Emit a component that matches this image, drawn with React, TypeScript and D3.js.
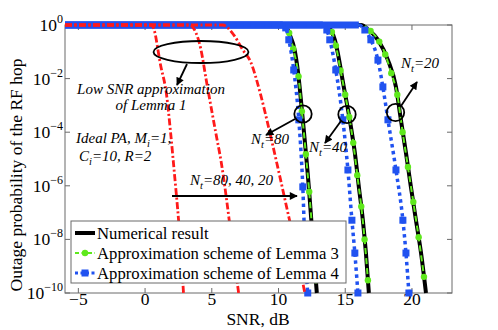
import React from "react";
import * as d3 from "d3";

type Pt = [number, number];

// numerical result (black) as [SNR dB, outage]
const numerical80: Pt[] = [[-6, 1], [10.39, 1], [10.62, 0.78], [10.84, 0.43], [11.2, 0.12], [11.44, 0.021], [11.82, 2.9e-4], [12.27, 9.1e-7], [12.64, 3.1e-9], [12.87, 1e-10]];
const numerical40: Pt[] = [[-6, 1], [13.62, 1], [13.92, 0.65], [14.22, 0.28], [14.44, 0.091], [14.89, 4.9e-3], [15.34, 2.9e-4], [15.72, 1.7e-5], [16.02, 9.1e-7], [16.32, 5.2e-8], [16.55, 3.1e-9], [16.77, 1e-10]];
const numerical20: Pt[] = [[-6, 1], [16.17, 1], [16.77, 0.65], [17.45, 0.28], [18.2, 0.049], [18.8, 4.9e-3], [19.17, 2.9e-4], [19.55, 1.7e-5], [19.92, 9.1e-7], [20.3, 5.2e-8], [20.68, 3.1e-9], [21.05, 1e-10]];

// approximation scheme of Lemma 3 (green)
const lemma3_80: Pt[] = [[-6, 1], [10.45, 1], [10.8, 0.5], [11.1, 0.13], [11.5, 0.012], [11.75, 6e-4], [12.05, 1.5e-5], [12.3, 6e-7], [12.55, 1.5e-8], [12.8, 3e-10]];
const lemma3_40: Pt[] = [[-6, 1], [13.65, 1], [14.0, 0.55], [14.3, 0.17], [14.65, 0.02], [15.0, 2.5e-3], [15.3, 3.7e-4], [15.6, 4e-5], [15.9, 2.5e-6], [16.2, 1.7e-7], [16.45, 1e-8], [16.7, 3e-10]];
const lemma3_20: Pt[] = [[-6, 1], [16.2, 1], [16.9, 0.6], [17.55, 0.24], [18.0, 0.08], [18.45, 0.016], [18.9, 2.5e-3], [19.3, 1e-4], [19.7, 5e-6], [20.1, 2.5e-7], [20.5, 1.2e-8], [20.9, 4e-10]];

// approximation scheme of Lemma 4 (blue)
const lemma4_80: Pt[] = [[-6, 1], [10.32, 1], [10.54, 0.78], [10.77, 0.28], [11.14, 0.021], [11.52, 2.9e-4], [11.82, 9.1e-7], [12.0, 3.1e-9], [12.19, 1e-10]];
const lemma4_40: Pt[] = [[-6, 1], [13.32, 1], [13.62, 0.65], [13.84, 0.28], [14.29, 0.021], [14.82, 2.9e-4], [15.2, 3.9e-6], [15.5, 5.2e-8], [15.72, 3.1e-9], [15.95, 1e-10]];
const lemma4_20: Pt[] = [[-6, 1], [16.02, 1], [16.47, 0.65], [16.92, 0.28], [17.45, 0.049], [17.82, 4.9e-3], [18.2, 2.9e-4], [18.8, 3.9e-6], [19.32, 5.2e-8], [19.55, 3.1e-9], [19.77, 1e-10]];

// low SNR approximation of Lemma 1 (red)
const lowSnr80: Pt[] = [[-6, 1], [0.45, 1], [0.63, 0.78], [1.16, 0.032], [1.61, 2.5e-3], [1.91, 1e-4], [2.21, 2.5e-6], [2.51, 5.2e-8], [2.7, 2.6e-9], [2.88, 1e-10]];
const lowSnr40: Pt[] = [[-6, 1], [3.41, 1], [3.54, 0.87], [4.16, 0.14], [4.61, 7.4e-3], [5.29, 1e-4], [5.74, 6e-6], [6.11, 3e-7], [6.49, 9.5e-9], [7.01, 1e-10]];
const lowSnr20: Pt[] = [[-6, 1], [5.81, 1], [6.64, 0.43], [7.31, 0.12], [7.91, 0.042], [8.66, 2.5e-3], [9.26, 1.5e-4], [9.94, 5e-6], [10.77, 6.9e-8], [11.37, 3.1e-9], [11.97, 1e-10]];

const xTicks = [-5, 0, 5, 10, 15, 20];
const yTickExps = [0, -2, -4, -6, -8, -10];
const legendLabels = ["Numerical result", "Approximation scheme of Lemma 3", "Approximation scheme of Lemma 4"];

const W = 498, H = 330;
const m = { left: 65, right: 452, top: 25, bottom: 293 };
const BLUE = "#2052f0", GREEN = "#5ee81c", RED = "#ff1a1a", AX = "#6a6a6a";
const serif = "'Liberation Serif', 'Times New Roman', serif";

const minus = (v: number) => (v < 0 ? "\u2212" + Math.abs(v) : String(v));

export default function App() {
  const x = d3.scaleLinear().domain([-6, 23]).range([m.left, m.right]);
  const y = d3.scaleLog().domain([1e-10, 1]).range([m.bottom, m.top]);
  const line = d3.line<Pt>().x((d) => x(d[0])).y((d) => y(d[1])).curve(d3.curveMonotoneX);

  const black = [numerical80, numerical40, numerical20];
  const green = [lemma3_80, lemma3_40, lemma3_20];
  const blue = [lemma4_80, lemma4_40, lemma4_20];
  const red = [lowSnr80, lowSnr40, lowSnr20];

  const it = { fontFamily: serif, fontStyle: "italic", fontSize: 15 } as const;
  const sub = { fontSize: 10.5 } as const;

  return (
    <svg width={W} height={H} style={{ position: "absolute", left: 0, top: 0, background: "#fff" }}>
      <defs>
        <marker id="ah" viewBox="0 0 10 10" refX="9" refY="5" markerWidth="10" markerHeight="8"
          markerUnits="userSpaceOnUse" orient="auto">
          <path d="M0,0 L10,5 L0,10 z" fill="#000" />
        </marker>
      </defs>

      {/* axes box and ticks */}
      <rect x={m.left} y={m.top} width={m.right - m.left} height={m.bottom - m.top} fill="none" stroke={AX} strokeWidth={1} />
      {xTicks.map((t) => (
        <g key={"x" + t}>
          <line x1={x(t)} x2={x(t)} y1={m.bottom} y2={m.bottom - 5} stroke={AX} />
          <line x1={x(t)} x2={x(t)} y1={m.top} y2={m.top + 5} stroke={AX} />
          <text x={x(t)} y={305} textAnchor="middle" fontFamily={serif} fontSize={17.5}>{minus(t)}</text>
        </g>
      ))}
      {yTickExps.map((e) => (
        <g key={"y" + e}>
          <line x1={m.left} x2={m.left + 5} y1={y(10 ** e)} y2={y(10 ** e)} stroke={AX} />
          <line x1={m.right} x2={m.right - 5} y1={y(10 ** e)} y2={y(10 ** e)} stroke={AX} />
          <text x={63} y={y(10 ** e) + 6} textAnchor="end" fontFamily={serif} fontSize={17.5}>
            10<tspan dy={-8} fontSize={12}>{minus(e)}</tspan>
          </text>
        </g>
      ))}
      <text x={258} y={325} textAnchor="middle" fontFamily={serif} fontSize={17.5}>SNR, dB</text>
      <text transform="translate(22,175) rotate(-90)" textAnchor="middle" fontFamily={serif} fontSize={17.5}>
        Outage probability of the RF hop
      </text>

      {/* numerical result */}
      {black.map((c, i) => (
        <path key={"k" + i} d={line(c) ?? ""} fill="none" stroke="#000" strokeWidth={4} />
      ))}
      {/* Lemma 3 */}
      {green.map((c, i) => (
        <g key={"g" + i}>
          <path d={line(c) ?? ""} fill="none" stroke={GREEN} strokeWidth={2} strokeDasharray="6,4" />
          {c.filter((d) => d[1] < 1).map((d, j) => (
            <circle key={j} cx={x(d[0])} cy={y(d[1])} r={3.2} fill={GREEN} />
          ))}
        </g>
      ))}
      {/* Lemma 4 */}
      {blue.map((c, i) => (
        <g key={"b" + i}>
          <path d={line(c.filter((d) => d[1] === 1)) ?? ""} fill="none" stroke={BLUE} strokeWidth={7} />
          <path d={line(c) ?? ""} fill="none" stroke={BLUE} strokeWidth={3.5} strokeDasharray="3.5,3.5" />
          {c.filter((d) => d[1] < 1).map((d, j) => (
            <rect key={j} x={x(d[0]) - 3.5} y={y(d[1]) - 3.5} width={7} height={7} fill={BLUE} />
          ))}
        </g>
      ))}
      {/* low SNR approximation */}
      {red.map((c, i) => (
        <path key={"r" + i} d={line(c) ?? ""} fill="none" stroke={RED} strokeWidth={2.8} strokeDasharray="7,2.5,2,2.5" />
      ))}

      {/* legend */}
      <rect x={71} y={221} width={275} height={62} fill="#fff" stroke={AX} strokeWidth={1} />
      {legendLabels.map((lab, i) => {
        const ly = 233 + i * 20;
        return (
          <g key={lab}>
            {i === 0 && <line x1={75} x2={95} y1={ly} y2={ly} stroke="#000" strokeWidth={4} />}
            {i === 1 && (
              <g>
                <line x1={75} x2={95} y1={ly} y2={ly} stroke={GREEN} strokeWidth={2} strokeDasharray="4,2.5" />
                <circle cx={85} cy={ly} r={3.2} fill={GREEN} />
              </g>
            )}
            {i === 2 && (
              <g>
                <line x1={75} x2={95} y1={ly} y2={ly} stroke={BLUE} strokeWidth={3} strokeDasharray="3,2.5" />
                <rect x={81.5} y={ly - 3.5} width={7} height={7} fill={BLUE} />
              </g>
            )}
            <text x={97} y={ly + 5.5} fontFamily={serif} fontSize={16.7}>{lab}</text>
          </g>
        );
      })}

      {/* annotations */}
      <ellipse cx={201} cy={52} rx={47.5} ry={11} fill="none" stroke="#000" strokeWidth={1.8} />
      <line x1={187} y1={64} x2={177} y2={85} stroke="#000" strokeWidth={1.8} markerEnd="url(#ah)" />
      <text x={151} y={94} textAnchor="middle" {...it}>Low SNR approximation</text>
      <text x={151} y={110} textAnchor="middle" {...it}>of Lemma 1</text>
      <text x={76} y={143} {...it}>Ideal PA, M<tspan dy={4} {...sub}>i</tspan><tspan dy={-4}>=1,</tspan></text>
      <text x={79} y={161} {...it}>C<tspan dy={4} {...sub}>i</tspan><tspan dy={-4}>=10, R=2</tspan></text>

      <text x={190} y={185} {...it}>N<tspan dy={4} {...sub}>t</tspan><tspan dy={-4}>=80, 40, 20</tspan></text>
      <line x1={172} y1={196} x2={297} y2={196} stroke="#000" strokeWidth={1.8} markerEnd="url(#ah)" />

      <circle cx={303} cy={114} r={8.7} fill="none" stroke="#000" strokeWidth={1.8} />
      <line x1={295} y1={119} x2={266} y2={135} stroke="#000" strokeWidth={1.8} markerEnd="url(#ah)" />
      <text x={251} y={144} {...it}>N<tspan dy={4} {...sub}>t</tspan><tspan dy={-4}>=80</tspan></text>

      <circle cx={347} cy={114.5} r={8.7} fill="none" stroke="#000" strokeWidth={1.8} />
      <line x1={341} y1={121} x2={325} y2={143} stroke="#000" strokeWidth={1.8} markerEnd="url(#ah)" />
      <text x={309} y={152} {...it}>N<tspan dy={4} {...sub}>t</tspan><tspan dy={-4}>=40</tspan></text>

      <circle cx={395.5} cy={112.5} r={8.7} fill="none" stroke="#000" strokeWidth={1.8} />
      <line x1={401} y1={106} x2={417} y2={82} stroke="#000" strokeWidth={1.8} markerEnd="url(#ah)" />
      <text x={401} y={68} {...it}>N<tspan dy={4} {...sub}>t</tspan><tspan dy={-4}>=20</tspan></text>
    </svg>
  );
}
